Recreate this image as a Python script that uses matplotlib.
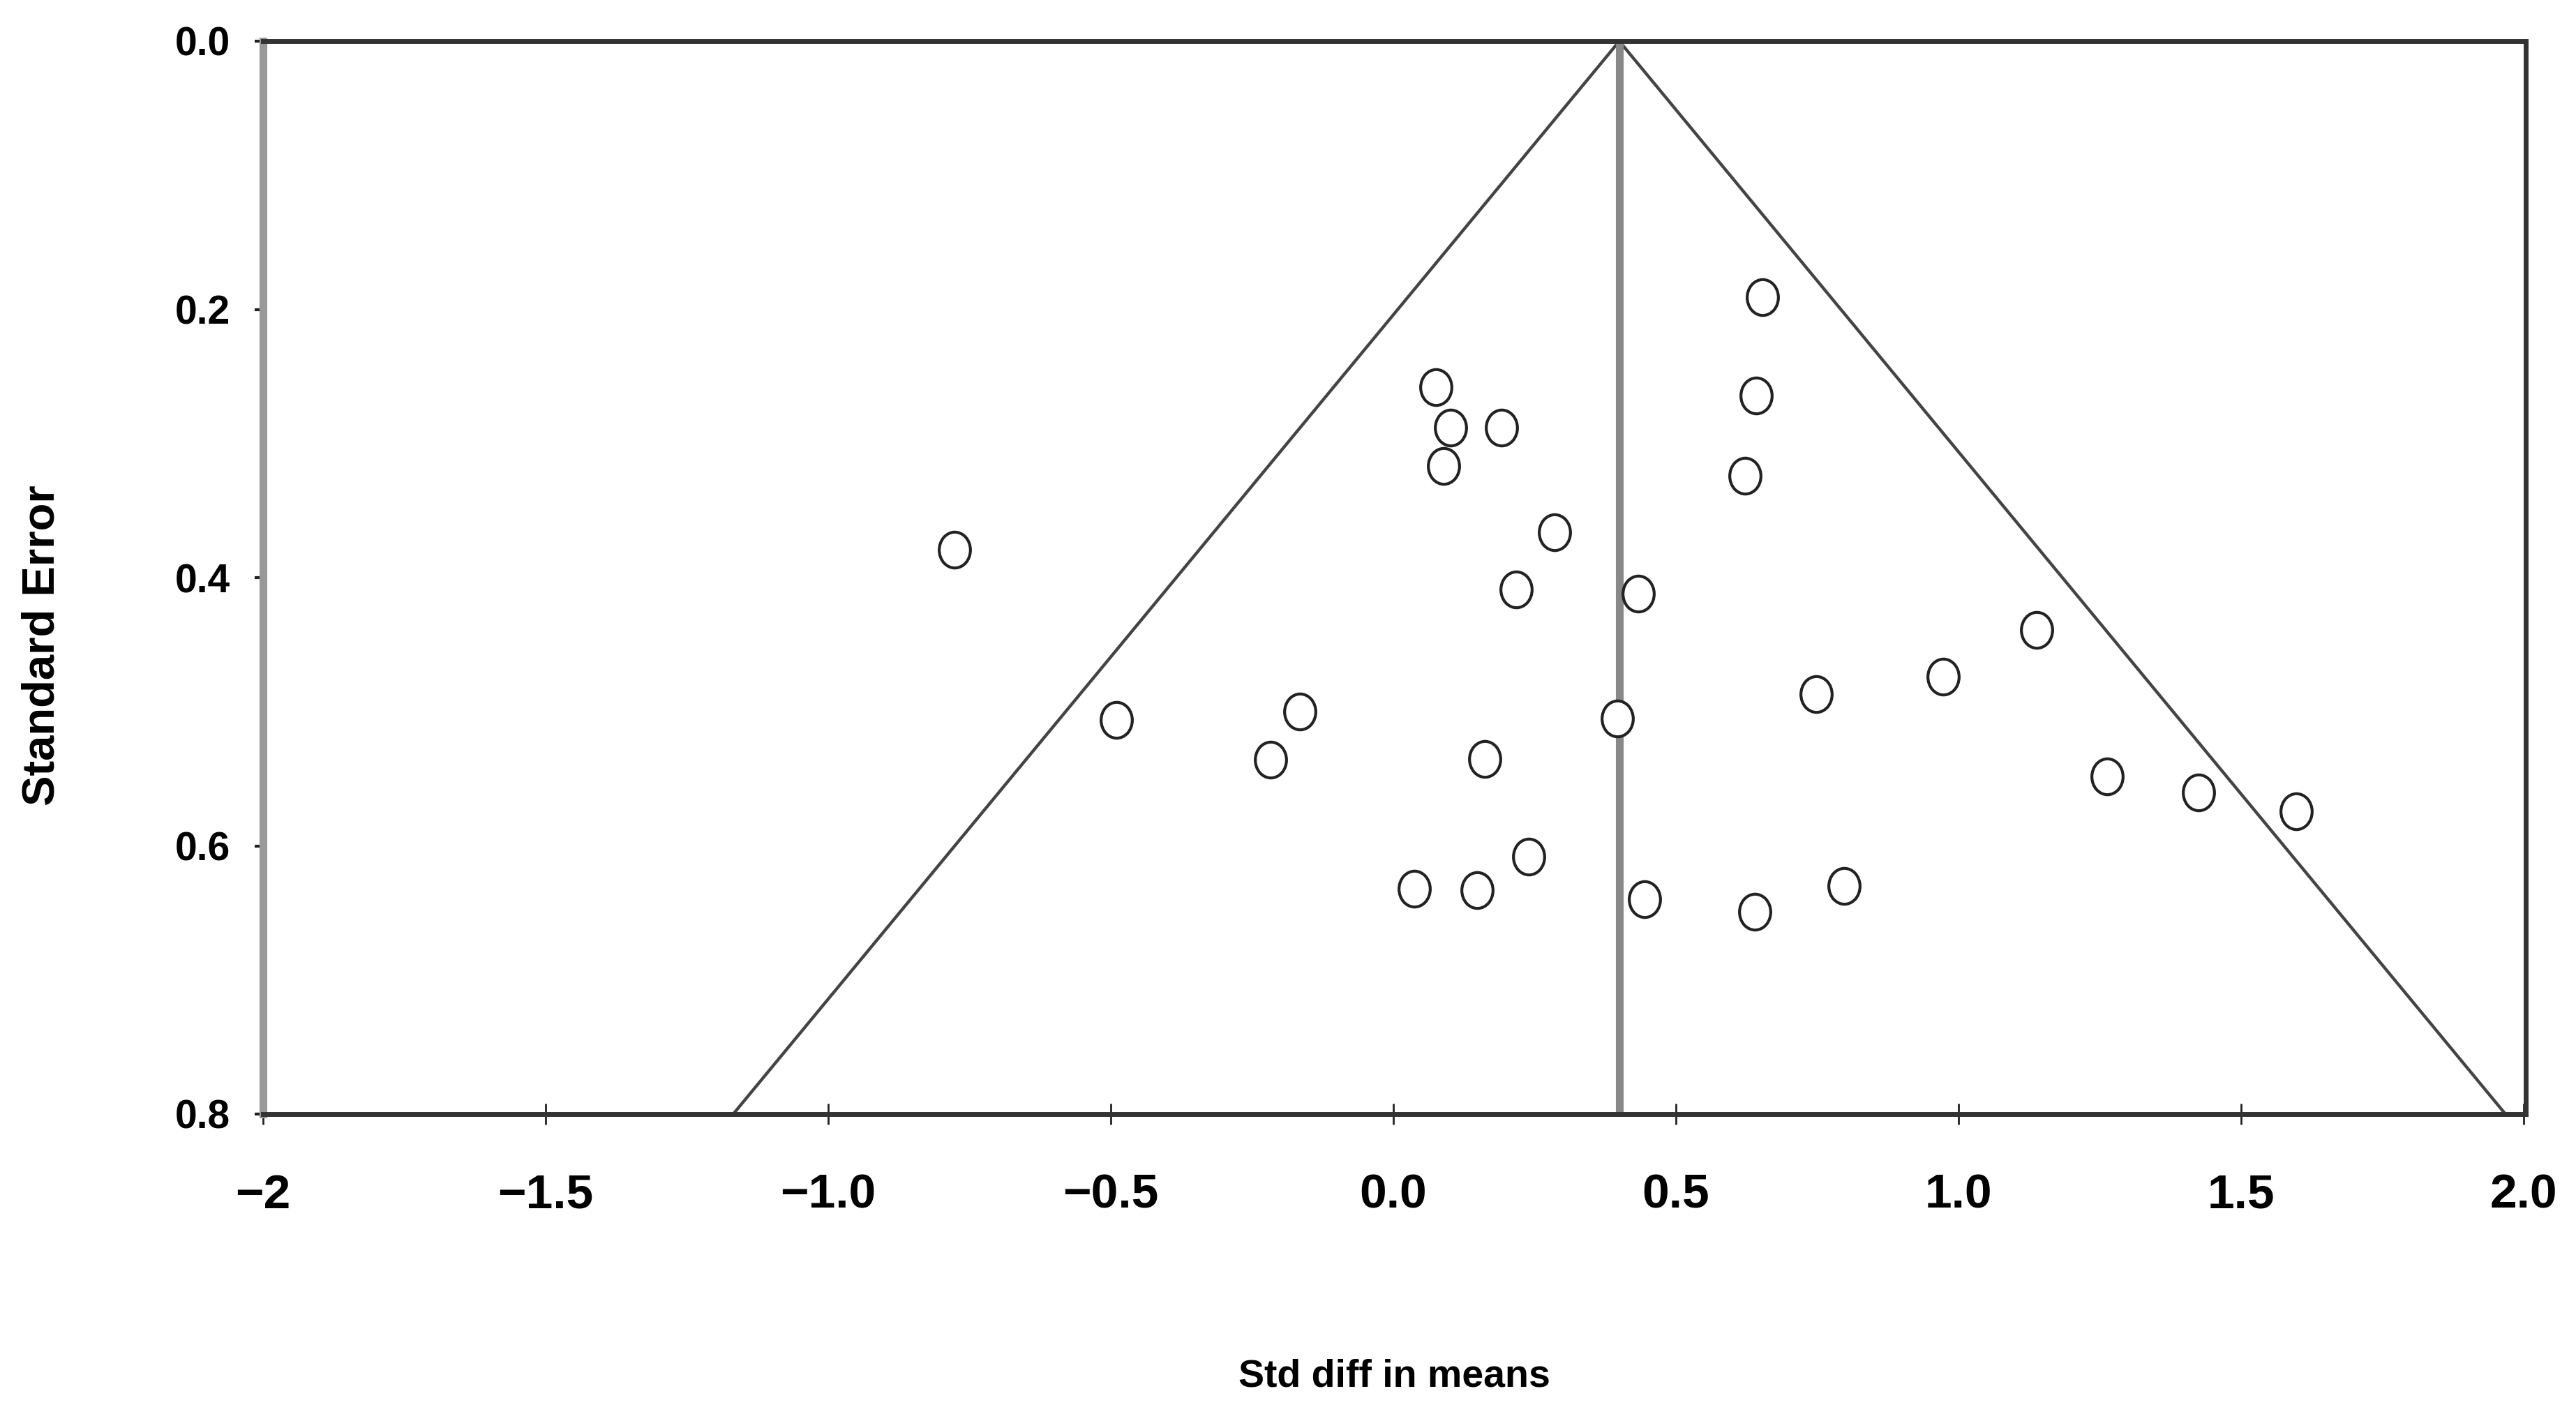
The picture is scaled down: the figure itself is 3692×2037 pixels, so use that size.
import matplotlib
matplotlib.use("Agg")
import matplotlib.pyplot as plt
from matplotlib.path import Path
from matplotlib.transforms import Affine2D

plt.rcParams['font.family'] = ['Liberation Sans', 'DejaVu Sans']
plt.rcParams['font.weight'] = 'bold'

# study effects (std diff in means) and their standard errors
std_diff = [0.076, 0.102, 0.191, 0.089, 0.285, 0.217, 0.433, 0.642, 0.623,
            0.653, -0.776,
            -0.490, -0.165, -0.217, 0.162, 0.396, 0.240, 0.037, 0.148, 0.445,
            1.138, 0.973, 0.748, 1.263, 1.425, 1.598, 0.640, 0.798]
std_err = [0.258, 0.288, 0.288, 0.317, 0.366, 0.409, 0.412, 0.264, 0.324,
           0.191, 0.379,
           0.506, 0.500, 0.536, 0.535, 0.505, 0.608, 0.632, 0.633, 0.640,
           0.439, 0.474, 0.487, 0.548, 0.560, 0.574, 0.649, 0.630]

pooled = 0.40
z = 1.96
se_max = 0.8

xticks = [-2, -1.5, -1.0, -0.5, 0.0, 0.5, 1.0, 1.5, 2.0]
xtick_labels = ['\u22122', '\u22121.5', '\u22121.0', '\u22120.5', '0.0', '0.5', '1.0', '1.5', '2.0']
yticks = [0.0, 0.2, 0.4, 0.6, 0.8]
ytick_labels = ['0.0', '0.2', '0.4', '0.6', '0.8']

W, H = 3692, 2037
fig = plt.figure(figsize=(W / 100, H / 100), dpi=100)
ax = fig.add_axes([377 / W, 1 - 1597 / H, (3620 - 377) / W, (1597 - 59) / H])

# funnel
ax.plot([pooled - z * se_max, pooled, pooled + z * se_max], [se_max, 0, se_max],
        color='#444444', lw=3.2, zorder=2, clip_on=False)
ax.plot([pooled, pooled], [0, se_max], color='#888888', lw=8, zorder=2)

# slightly tall circles, as in the original
oval = Path.unit_circle().transformed(Affine2D().scale(1.0, 1.15))
ax.plot(std_diff, std_err, linestyle='none', marker=oval, markersize=37,
        markerfacecolor='white', markeredgecolor='#222222', markeredgewidth=3, zorder=3)

ax.set_xlim(-1.995, 2.004)
ax.set_ylim(se_max, 0)

ax.set_xticks(xticks)
ax.set_xticklabels(xtick_labels)
ax.set_yticks(yticks)
ax.set_yticklabels(ytick_labels)
ax.tick_params(axis='x', direction='inout', length=22, width=2, color='#222222',
               labelsize=50, pad=50)
ax.tick_params(axis='y', direction='out', length=9, width=3, color='#222222',
               labelsize=41, pad=25)

for side in ['top', 'bottom', 'right']:
    ax.spines[side].set_color('#333333')
    ax.spines[side].set_linewidth(5)
ax.spines['left'].set_color('#999999')
ax.spines['left'].set_linewidth(8)

ax.set_xlabel('Std diff in means', fontsize=40, fontweight='bold')
ax.xaxis.label.set_va('baseline')
ax.xaxis.set_label_coords(0.5, (1597 - 1988) / 1538)
ax.set_ylabel('Standard Error', fontsize=47, fontweight='bold')
ax.yaxis.label.set_va('center')
ax.yaxis.set_label_coords((61 - 377) / 3243, (1597 - 925) / 1538)

fig.savefig('out.png', dpi=100, facecolor='white')
